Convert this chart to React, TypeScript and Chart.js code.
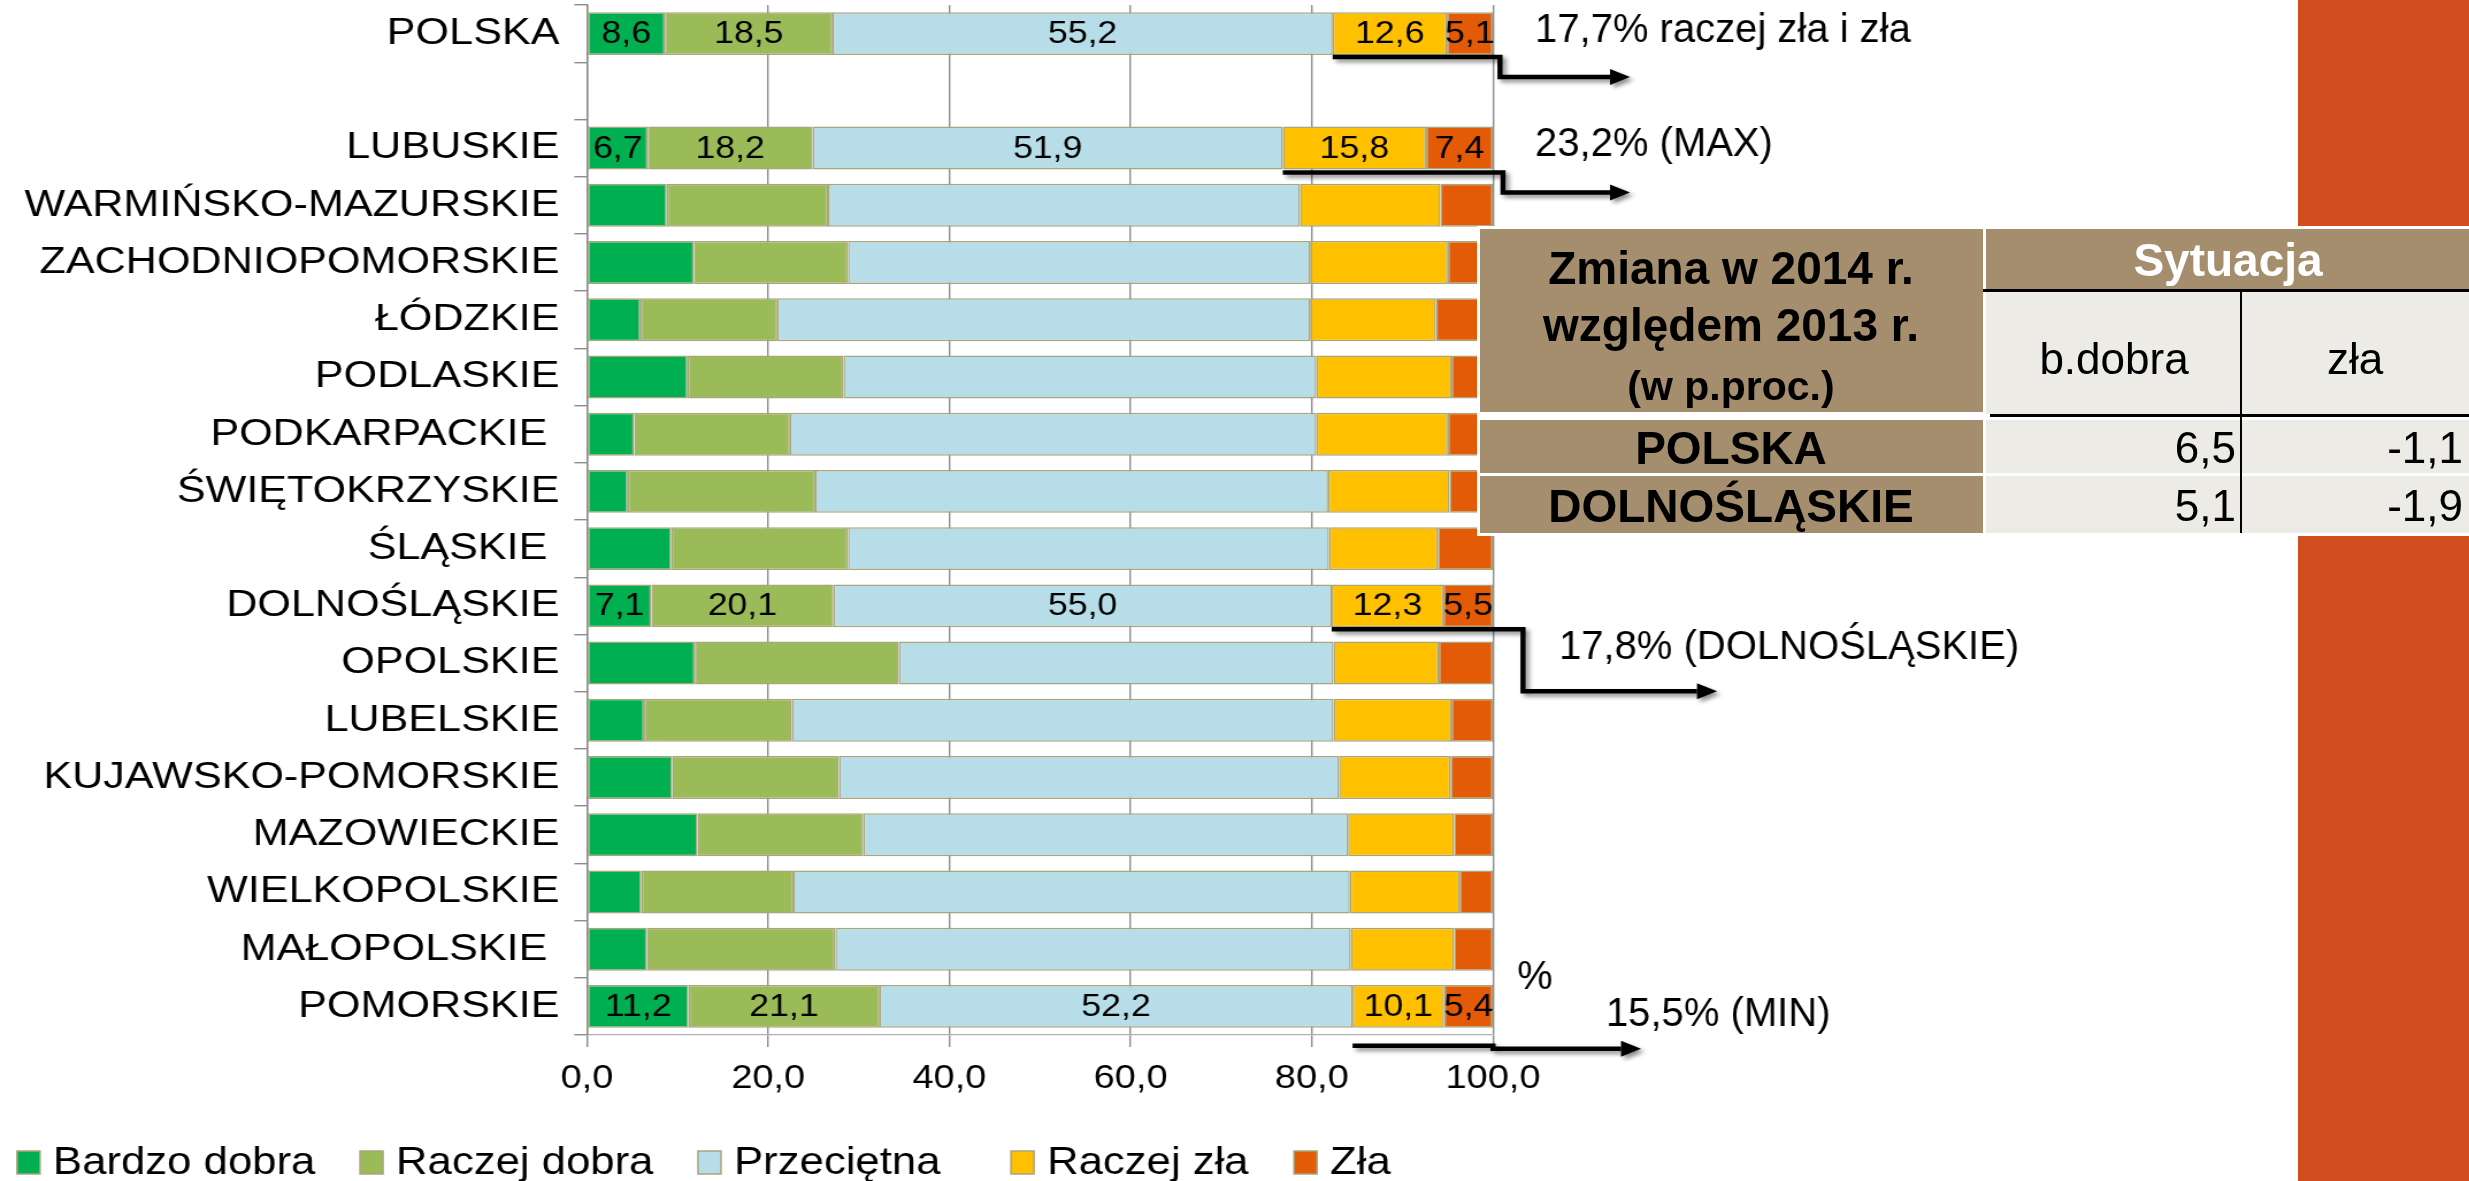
import React, { useEffect, useRef } from 'react';
import { Chart, registerables } from 'chart.js';

Chart.register(...registerables);

// ---------- DATA ----------
const categories = [
  'POLSKA', '', 'LUBUSKIE', 'WARMIŃSKO-MAZURSKIE', 'ZACHODNIOPOMORSKIE', 'ŁÓDZKIE', 'PODLASKIE',
  'PODKARPACKIE ', 'ŚWIĘTOKRZYSKIE', 'ŚLĄSKIE ', 'DOLNOŚLĄSKIE', 'OPOLSKIE', 'LUBELSKIE',
  'KUJAWSKO-POMORSKIE', 'MAZOWIECKIE', 'WIELKOPOLSKIE', 'MAŁOPOLSKIE ', 'POMORSKIE',
];
const seriesNames = ['Bardzo dobra', 'Raczej dobra', 'Przeciętna', 'Raczej zła', 'Zła'];
const bardzoDobra = [8.6, null, 6.7, 8.8, 11.8, 5.9, 11.1, 5.2, 4.5, 9.3, 7.1, 11.9, 6.3, 9.4, 12.2, 6.0, 6.6, 11.2];
const raczejDobra = [18.5, null, 18.2, 17.8, 17.0, 15.1, 17.2, 17.2, 20.7, 19.5, 20.1, 22.5, 16.3, 18.4, 18.3, 16.8, 20.8, 21.1];
const przecietna = [55.2, null, 51.9, 52.1, 51.0, 58.8, 52.2, 58.1, 56.6, 53.1, 55.0, 48.0, 59.8, 55.2, 53.5, 61.4, 56.9, 52.2];
const raczejZla = [12.6, null, 15.8, 15.5, 15.2, 13.9, 14.9, 14.5, 13.4, 12.0, 12.3, 11.6, 13.0, 12.3, 11.7, 12.1, 11.4, 10.1];
const zla = [5.1, null, 7.4, 5.8, 5.0, 6.3, 4.6, 5.0, 4.8, 6.1, 5.5, 6.0, 4.6, 4.7, 4.3, 3.7, 4.3, 5.4];
const labeledRows = [0, 2, 10, 17];
const xTicks = [0, 20, 40, 60, 80, 100];

const annotationRows = [0, 2, 10, 17];
const annotationTexts = ['17,7% raczej zła i zła', '23,2% (MAX)', '17,8% (DOLNOŚLĄSKIE)', '15,5% (MIN)'];

const tableRows = ['POLSKA', 'DOLNOŚLĄSKIE'];
const tableBDobra = [6.5, 5.1];
const tableZla = [-1.1, -1.9];

// ---------- STYLE ----------
const FONT = '"Liberation Sans", Arial, Helvetica, sans-serif';
const colors = ['#00B050', '#9BBB59', '#B7DEE8', '#FFC000', '#E35B06'];
const PAGE_W = 2469;
const PAGE_H = 1181;
const S = 1.15; // horizontal stretch of the chart object
const W0 = Math.round(PAGE_W / S);
const fmt = (v: number) => v.toFixed(1).replace('.', ',');

// connector geometry (full-size px, relative to x=100 pixel and bar bottom / bar centre)
const connectorGeom = [
  { y1: 2, stepDx: 7, y2: 22, tipDx: 137, textDx: 42, textDy: -3 },
  { y1: 3, stepDx: 10, y2: 23, tipDx: 137, textDx: 42, textDy: -3 },
  { y1: 2, stepDx: 30, y2: 64, tipDx: 224, textDx: 66, textDy: 42 },
  { y1: 18, stepDx: 0, y2: 21, tipDx: 148, textDx: 113, textDy: 9 },
];

const dataLabelPlugin = {
  id: 'dataLabels',
  afterDatasetsDraw(chart: any) {
    const ctx = chart.ctx;
    ctx.save();
    ctx.font = `31px ${FONT}`;
    ctx.fillStyle = '#000';
    ctx.textAlign = 'center';
    ctx.textBaseline = 'middle';
    chart.data.datasets.forEach((ds: any, di: number) => {
      const meta = chart.getDatasetMeta(di);
      labeledRows.forEach((ri) => {
        const el = meta.data[ri];
        const v = ds.data[ri];
        if (!el || v == null) return;
        const p = el.getProps(['x', 'y', 'base'], true);
        ctx.fillText(fmt(v), (p.x + p.base) / 2, p.y + 1);
      });
    });
    ctx.restore();
  },
};

const annotationPlugin = {
  id: 'annots',
  afterDraw(chart: any) {
    const ctx = chart.ctx;
    const xs = chart.scales.x;
    const x100 = xs.getPixelForValue(100);
    const meta = chart.getDatasetMeta(3);
    ctx.save();
    annotationRows.forEach((ri, i) => {
      const g = connectorGeom[i];
      const el = meta.data[ri];
      const p = el.getProps(['x', 'y', 'base', 'height'], true);
      const bottom = p.y + p.height / 2;
      const sx = Math.min(p.base, p.x);
      const yA = bottom + g.y1;
      const yB = bottom + g.y2;
      const stepX = x100 + g.stepDx / S;
      const tipX = x100 + g.tipDx / S;
      const headL = 20 / S;
      ctx.save();
      ctx.shadowColor = 'rgba(0,0,0,0.45)';
      ctx.shadowBlur = 4;
      ctx.shadowOffsetX = 3;
      ctx.shadowOffsetY = 3;
      ctx.strokeStyle = '#000';
      ctx.fillStyle = '#000';
      ctx.lineWidth = 4.5;
      ctx.lineJoin = 'miter';
      ctx.beginPath();
      ctx.moveTo(sx, yA);
      ctx.lineTo(stepX, yA);
      ctx.lineTo(stepX, yB);
      ctx.lineTo(tipX - headL, yB);
      ctx.stroke();
      ctx.beginPath();
      ctx.moveTo(tipX, yB);
      ctx.lineTo(tipX - headL, yB - 8);
      ctx.lineTo(tipX - headL, yB + 8);
      ctx.closePath();
      ctx.fill();
      ctx.restore();

      // annotation text (not stretched in original)
      ctx.save();
      ctx.translate(x100 + g.textDx / S, p.y + g.textDy);
      ctx.scale(1 / S, 1);
      ctx.font = `40px ${FONT}`;
      ctx.fillStyle = '#000';
      ctx.textAlign = 'left';
      ctx.textBaseline = 'middle';
      ctx.fillText(annotationTexts[i], 0, 0);
      ctx.restore();
    });
    // "%" unit label near the bottom
    const lastEl = meta.data[17].getProps(['y'], true);
    ctx.save();
    ctx.translate(x100 + 24 / S, lastEl.y - 28);
    ctx.scale(1 / S, 1);
    ctx.font = `40px ${FONT}`;
    ctx.fillStyle = '#000';
    ctx.textBaseline = 'middle';
    ctx.fillText('%', 0, 0);
    ctx.restore();

    // custom legend
    const legendX = [17, 360, 698, 1011, 1294];
    ctx.save();
    chart.data.datasets.forEach((ds: any, di: number) => {
      const bx = legendX[di] / S;
      ctx.fillStyle = ds.backgroundColor;
      ctx.fillRect(bx, 1151, 23 / S, 23);
      ctx.strokeStyle = '#A9A57C';
      ctx.lineWidth = 1.5;
      ctx.strokeRect(bx, 1151, 23 / S, 23);
      ctx.fillStyle = '#000';
      ctx.font = `38px ${FONT}`;
      ctx.textAlign = 'left';
      ctx.textBaseline = 'middle';
      ctx.fillText(ds.label, bx + 36 / S, 1164);
    });
    ctx.restore();
    ctx.restore();
  },
};

function Txt(props: { text: string; cx?: number; right?: number; cy: number; size: number; bold?: boolean; color?: string }) {
  const L = Math.round(props.size * 1.3);
  const style: any = {
    position: 'absolute',
    top: props.cy - L / 2,
    height: L,
    lineHeight: `${L}px`,
    fontSize: props.size,
    fontWeight: props.bold ? 'bold' : 'normal',
    color: props.color || '#000',
    whiteSpace: 'nowrap',
    fontFamily: FONT,
  };
  if (props.right != null) {
    style.left = props.right - 400;
    style.width = 400;
    style.textAlign = 'right';
  } else {
    style.left = (props.cx as number) - 400;
    style.width = 800;
    style.textAlign = 'center';
  }
  return <div style={style}>{props.text}</div>;
}

const rect = (l: number, t: number, w: number, h: number, bg: string): React.CSSProperties => ({
  position: 'absolute', left: l, top: t, width: w, height: h, background: bg,
});

function Table() {
  const brown = '#A48E6E';
  const grey = '#EDEBE6';
  const rowTops = [420, 476];
  const rowHs = [53, 57];
  return (
    <div>
      <div style={rect(1477, 226, 992, 310, '#fff')} />
      <div style={rect(1480, 229, 503, 183, brown)} />
      <div style={rect(1986, 229, 483, 61, brown)} />
      <div style={rect(1983, 289, 486, 3, '#000')} />
      <div style={rect(1986, 292, 483, 122, grey)} />
      <div style={rect(1990, 414, 479, 3, '#000')} />
      {tableRows.map((r, i) => (
        <React.Fragment key={r}>
          <div style={rect(1480, rowTops[i], 503, rowHs[i], brown)} />
          <div style={rect(1986, rowTops[i], 483, rowHs[i], grey)} />
        </React.Fragment>
      ))}
      <div style={rect(2240, 292, 2, 241, '#000')} />
      <Txt text="Zmiana w 2014 r." cx={1731} cy={268} size={46} bold />
      <Txt text="względem 2013 r." cx={1731} cy={325} size={46} bold />
      <Txt text="(w p.proc.)" cx={1731} cy={386} size={41} bold />
      <Txt text="Sytuacja" cx={2228} cy={260} size={46} bold color="#fff" />
      <Txt text="b.dobra" cx={2114} cy={358} size={44} />
      <Txt text="zła" cx={2355} cy={358} size={44} />
      {tableRows.map((r, i) => (
        <React.Fragment key={'t' + r}>
          <Txt text={r} cx={1731} cy={rowTops[i] + rowHs[i] / 2 + 1} size={46} bold />
          <Txt text={fmt(tableBDobra[i])} right={2236} cy={rowTops[i] + rowHs[i] / 2 + 1} size={44} />
          <Txt text={fmt(tableZla[i])} right={2463} cy={rowTops[i] + rowHs[i] / 2 + 1} size={44} />
        </React.Fragment>
      ))}
    </div>
  );
}

export default function App() {
  const ref = useRef<HTMLCanvasElement>(null);
  useEffect(() => {
    if (!ref.current) return;
    Chart.defaults.font.family = FONT;
    const series = [bardzoDobra, raczejDobra, przecietna, raczejZla, zla];
    const chart = new Chart(ref.current, {
      type: 'bar',
      data: {
        labels: categories,
        datasets: series.map((d, i) => ({
          label: seriesNames[i],
          data: d,
          backgroundColor: colors[i],
          borderColor: '#A9A57C',
          borderWidth: 1.5,
          borderSkipped: false,
          barPercentage: 0.75,
          categoryPercentage: 1,
        })),
      },
      options: {
        indexAxis: 'y',
        responsive: false,
        animation: false,
        devicePixelRatio: 1,
        layout: { padding: { left: 0, top: 5, right: W0 - 1493 / S, bottom: 0 } },
        plugins: { legend: { display: false }, tooltip: { enabled: false } },
        scales: {
          x: {
            stacked: true,
            min: 0,
            max: 100,
            afterBuildTicks: (scale: any) => { scale.ticks = xTicks.map((v) => ({ value: v })); },
            afterFit: (scale: any) => {
              scale.height = PAGE_H - 1035;
              scale.paddingLeft = 0;
              scale.paddingRight = 0;
              scale.paddingTop = 0;
              scale.paddingBottom = 0;
            },
            grid: { color: '#8C8C8C', lineWidth: 1.4, tickLength: 12, drawTicks: true },
            border: { display: true, color: '#B0B0B0', width: 1.2 },
            ticks: {
              color: '#000',
              font: { size: 33 },
              padding: 12,
              maxRotation: 0,
              callback: (v: any) => fmt(Number(v)),
            },
          },
          y: {
            stacked: true,
            afterFit: (scale: any) => {
              scale.width = 587 / S;
              scale.paddingTop = 0;
              scale.paddingBottom = 0;
              scale.paddingLeft = 0;
              scale.paddingRight = 0;
            },
            grid: { offset: true, drawOnChartArea: false, color: '#8C8C8C', lineWidth: 1.4, tickLength: 11 },
            border: { display: true, color: '#8C8C8C', width: 1.4 },
            ticks: { color: '#000', font: { size: 37.5 }, padding: 13, autoSkip: false },
          },
        },
      },
      plugins: [dataLabelPlugin, annotationPlugin],
    } as any);
    return () => chart.destroy();
  }, []);

  return (
    <div style={{ position: 'absolute', left: 0, top: 0, width: PAGE_W, height: PAGE_H, background: '#fff', overflow: 'hidden' }}>
      <div style={rect(2298, 0, 171, PAGE_H, '#D24D1E')} />
      <div style={{ position: 'absolute', left: 0, top: 0, width: W0, height: PAGE_H, transform: `scaleX(${S})`, transformOrigin: '0 0' }}>
        <canvas ref={ref} width={W0} height={PAGE_H} style={{ display: 'block', width: W0, height: PAGE_H }} />
      </div>
      <Table />
    </div>
  );
}
